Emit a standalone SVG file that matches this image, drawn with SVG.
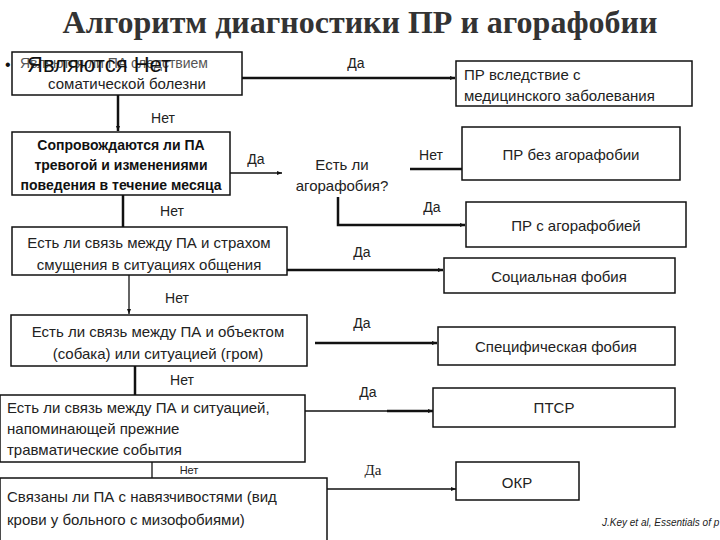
<svg xmlns="http://www.w3.org/2000/svg" width="720" height="540" viewBox="0 0 720 540">
<style>
.box{fill:#fff;stroke:#111;stroke-width:1.5}
.t{font-family:"Liberation Sans","Noto Sans",sans-serif;font-size:15px;fill:#222}
.tb{font-family:"Liberation Sans","Noto Sans",sans-serif;font-size:14px;font-weight:bold;fill:#111}
.lbl{font-family:"Liberation Sans","Noto Sans",sans-serif;font-size:14px;fill:#222}
.c{text-anchor:middle}
.thick{stroke:#111;stroke-width:2.5;fill:none}
.thin{stroke:#111;stroke-width:1.3;fill:none}
</style>
<defs>
<marker id="ah" markerWidth="6" markerHeight="6" refX="5" refY="3" orient="auto" markerUnits="userSpaceOnUse">
<path d="M0,1 L5,3 L0,5 z" fill="#111"/>
</marker>
</defs>
<rect width="720" height="540" fill="#fff"/>
<text x="360" y="33" text-anchor="middle" font-family="Liberation Serif,serif" font-weight="bold" font-size="32" fill="#333">Алгоритм диагностики ПР и агорафобии</text>

<g id="connectors">
<line class="thick" x1="242" y1="78" x2="455" y2="78" marker-end="url(#ah)"/>
<line class="thick" x1="118" y1="95" x2="118" y2="131" marker-end="url(#ah)"/>
<line class="thin" x1="230" y1="173" x2="282" y2="173" marker-end="url(#ah)"/>
<line class="thick" x1="410" y1="169" x2="462" y2="169"/>
<polyline class="thick" points="338,197 338,225 465,225" marker-end="url(#ah)"/>
<line class="thick" x1="123" y1="195" x2="123" y2="227"/>
<line class="thick" x1="287" y1="270" x2="443" y2="270" marker-end="url(#ah)"/>
<line class="thin" x1="129" y1="275" x2="129" y2="314" marker-end="url(#ah)"/>
<line class="thick" x1="315" y1="343" x2="437" y2="343" marker-end="url(#ah)"/>
<line class="thick" x1="135" y1="366" x2="135" y2="395"/>
<line class="thin" x1="303" y1="411" x2="387" y2="411"/>
<line class="thick" x1="387" y1="411" x2="433" y2="411" marker-end="url(#ah)"/>
<line class="thin" x1="152" y1="462" x2="152" y2="488" marker-end="url(#ah)"/>
<line class="thin" x1="327" y1="489" x2="456" y2="489" marker-end="url(#ah)"/>
<text class="lbl c" x="356" y="68">Да</text>
<text class="lbl c" x="163" y="123">Нет</text>
<text class="lbl c" x="256" y="164">Да</text>
<text class="lbl c" x="431" y="160">Нет</text>
<text class="lbl c" x="432" y="212">Да</text>
<text class="lbl c" x="172" y="216">Нет</text>
<text class="lbl c" x="362" y="257">Да</text>
<text class="lbl c" x="177" y="303">Нет</text>
<text class="lbl c" x="362" y="328">Да</text>
<text class="lbl c" x="182" y="385">Нет</text>
<text class="lbl c" x="368" y="397">Да</text>
<text x="189" y="474" text-anchor="middle" font-family="Liberation Sans,sans-serif" font-size="11" fill="#222">Нет</text>
<text x="373" y="475" text-anchor="middle" font-family="Liberation Serif,serif" font-size="15" fill="#222">Да</text>
</g>

<g id="n1">
<rect class="box" x="12" y="52" width="230" height="43"/>
<text x="20" y="68" font-family="Liberation Sans,sans-serif" font-size="14" fill="#555">Являются ли ПА следствием</text>
<text x="5" y="70" font-family="Liberation Sans,sans-serif" font-size="16" fill="#111">•</text>
<text x="27" y="72" font-family="Liberation Sans,sans-serif" font-size="22" fill="#111">Являются Нет</text>
<text class="t c" x="127" y="89">соматической болезни</text>
</g>
<g id="n2">
<rect class="box" x="456" y="61" width="236" height="45"/>
<text class="t" x="464" y="80">ПР вследствие  с</text>
<text class="t" x="464" y="101">медицинского заболевания</text>
</g>
<g id="n3">
<rect class="box" x="12" y="132" width="218" height="63"/>
<text class="tb c" x="121" y="150">Сопровождаются ли ПА</text>
<text class="tb c" x="121" y="170">тревогой и  изменениями</text>
<text class="tb c" x="121" y="190">поведения в течение месяца</text>
</g>
<g id="n4">
<text class="t c" x="342" y="170">Есть ли</text>
<text class="t c" x="342" y="191">агорафобия?</text>
</g>
<g id="n5">
<rect class="box" x="462" y="127" width="218" height="53"/>
<text class="t c" x="571" y="160">ПР без агорафобии</text>
</g>
<g id="n6">
<rect class="box" x="466" y="202" width="220" height="45"/>
<text class="t c" x="576" y="231">ПР с агорафобией</text>
</g>
<g id="n7">
<rect class="box" x="12" y="227" width="275" height="48"/>
<text class="t c" x="149" y="248">Есть ли связь между ПА и страхом</text>
<text class="t c" x="149" y="270">смущения  в ситуациях общения</text>
</g>
<g id="n8">
<rect class="box" x="444" y="258" width="231" height="35"/>
<text class="t c" x="559" y="282">Социальная фобия</text>
</g>
<g id="n9">
<rect class="box" x="11" y="315" width="296" height="51"/>
<text class="t c" x="158" y="337">Есть ли связь между  ПА и объектом</text>
<text class="t c" x="158" y="359">(собака)  или  ситуацией (гром)</text>
</g>
<g id="n10">
<rect class="box" x="438" y="327" width="237" height="38"/>
<text class="t c" x="556" y="352">Специфическая фобия</text>
</g>
<g id="n11">
<rect class="box" x="0" y="395" width="305" height="67"/>
<text class="t" x="7" y="413">Есть ли связь между ПА и ситуацией,</text>
<text class="t" x="7" y="434">напоминающей прежние</text>
<text class="t" x="7" y="455">травматические события</text>
</g>
<g id="n12">
<rect class="box" x="433" y="388" width="242" height="39"/>
<text class="t c" x="554" y="413">ПТСР</text>
</g>
<g id="n13">
<rect class="box" x="0" y="478" width="327" height="70"/>
<text class="t" x="7" y="502">Связаны ли  ПА с навязчивостями  (вид</text>
<text class="t" x="7" y="525">крови у больного с мизофобиями)</text>
</g>
<g id="n14">
<rect class="box" x="456" y="462" width="123" height="38"/>
<text class="t c" x="517" y="488">ОКР</text>
</g>
<text x="602" y="526" font-family="Liberation Sans,sans-serif" font-style="italic" font-size="10" fill="#222">J.Key et al, Essentials of p</text>
</svg>
